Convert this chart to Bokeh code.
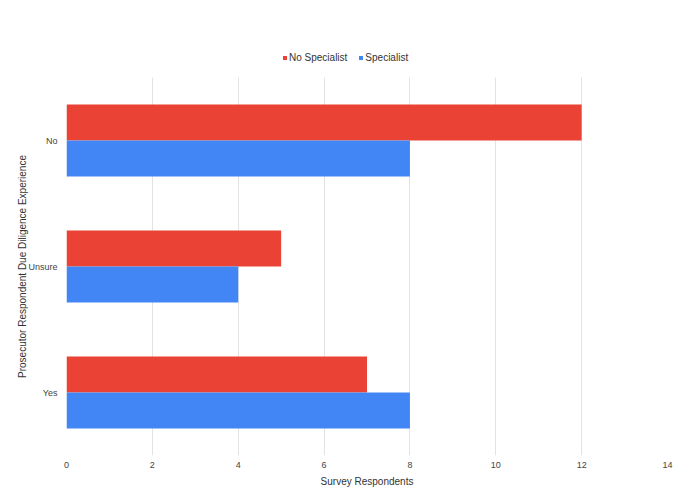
from bokeh.plotting import figure
from bokeh.models import ColumnDataSource, FactorRange, Range1d, Legend, LegendItem, FixedTicker
from bokeh.layouts import column
from bokeh.transform import dodge
from bokeh.embed import file_html
from bokeh.resources import INLINE

categories = ["No", "Unsure", "Yes"]
no_specialist = [12, 5, 7]
specialist = [8, 4, 8]
x_ticks = [0, 2, 4, 6, 8, 10, 12, 14]
series_names = ["No Specialist", "Specialist"]
series_colors = ["#EA4335", "#4285F4"]
series_fields = ["nos", "spec"]

src = ColumnDataSource(dict(cat=categories, nos=no_specialist, spec=specialist))
font = "Liberation Sans"

# main chart
p = figure(width=688, height=423, output_backend="svg", toolbar_location=None,
           y_range=FactorRange(factors=list(reversed(categories)), range_padding=0),
           x_range=Range1d(0, 14),
           min_border_left=66, min_border_right=21, min_border_top=0, min_border_bottom=45)

p.hbar(y=dodge("cat", 0.143, range=p.y_range), right="nos", left=0, height=0.286,
       source=src, color=series_colors[0], line_color=None)
p.hbar(y=dodge("cat", -0.143, range=p.y_range), right="spec", left=0, height=0.286,
       source=src, color=series_colors[1], line_color=None)

p.outline_line_color = None
p.ygrid.grid_line_color = None
p.xgrid.grid_line_color = "#e3e3e3"
p.xaxis.ticker = FixedTicker(ticks=x_ticks)
for ax in (p.xaxis[0], p.yaxis[0]):
    ax.axis_line_color = None
    ax.major_tick_line_color = None
    ax.minor_tick_line_color = None
    ax.major_tick_out = 0
    ax.major_tick_in = 0
    ax.minor_tick_out = 0
    ax.major_label_text_font = font
    ax.major_label_text_font_size = "9px"
    ax.major_label_text_color = "#444444"
    ax.axis_label_text_font = font
    ax.axis_label_text_font_size = "10px"
    ax.axis_label_text_font_style = "normal"
    ax.axis_label_text_color = "#333333"
p.xaxis.axis_label = "Survey Respondents"
p.yaxis.axis_label = "Prosecutor Respondent Due Diligence Experience"
p.xaxis.major_label_standoff = 6
p.xaxis.axis_label_standoff = 5
p.yaxis.major_label_standoff = 9
p.yaxis.axis_label_standoff = -3

# legend strip above the chart (its renderers are hidden; only legend swatches show)
lg = figure(width=688, height=77, output_backend="svg", toolbar_location=None,
            x_range=Range1d(0, 1), y_range=Range1d(0, 1),
            x_axis_location=None, y_axis_location=None,
            min_border=0)
lg.outline_line_color = None
lg.grid.grid_line_color = None
items = []
for name, col, fld in zip(series_names, series_colors, series_fields):
    r = lg.hbar(y=fld, left=fld, right=fld, height=0, source=src,
                fill_color=col, line_color=None, visible=False)
    items.append(LegendItem(label=name, renderers=[r]))
legend = Legend(items=items, orientation="horizontal", location=(216, 14),
                label_text_font=font, label_text_font_size="10px", label_text_color="#333333",
                glyph_width=5, glyph_height=5, label_standoff=2, spacing=11,
                padding=0, margin=0, border_line_color=None, background_fill_alpha=0,
                inactive_fill_alpha=0)
lg.add_layout(legend, "center")

layout = column(lg, p, spacing=0)
open("out.html", "w").write(file_html(layout, INLINE))
